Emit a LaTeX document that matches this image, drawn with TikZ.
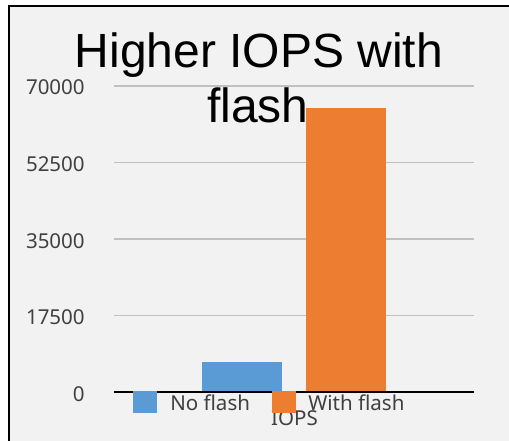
\documentclass[tikz,border=0pt]{standalone}
\usepackage{fontspec}
\setmainfont{Noto Sans}
\newfontfamily\titlefont{Liberation Sans}

\definecolor{chartbg}{HTML}{F2F2F2}
\definecolor{gridgray}{HTML}{C0C0C0}
\definecolor{labelgray}{HTML}{404040}
\definecolor{noflash}{HTML}{5B9BD5}
\definecolor{withflash}{HTML}{ED7D31}

\begin{document}
\begin{tikzpicture}[x=0.75pt,y=-0.75pt,
  ticklabel/.style={anchor=base east,inner sep=0pt,text=labelgray,font=\fontsize{15.4}{18}\selectfont},
  legendlabel/.style={anchor=base west,inner sep=0pt,text=labelgray,font=\fontsize{15.4}{18}\selectfont},
  titleline/.style={anchor=base,inner sep=0pt,font=\titlefont\fontsize{36}{41}\selectfont}]
  \useasboundingbox (0,0) rectangle (509,441);

  % Chart area and frame
  \fill[white] (0,0) rectangle (509,441);
  \fill[chartbg] (8.5,6) rectangle (509,441);
  \draw[line width=1.5pt] (8.5,441) -- (8.5,6) -- (509,6);

  % Gridlines and tick labels
  \foreach \v [count=\i from 0] in {0,17500,35000,52500,70000} {
    \draw[gridgray,line width=1.2pt] (114,392-\i*76.5) -- (474,392-\i*76.5);
    \node[ticklabel] (tick\i) at (85,401-\i*76.5) {\v};
  }

  % Title
  \node[titleline] (title1) at (259,68) {Higher IOPS with};
  \node[titleline] (title2) at (258,123) {flash};

  % Bars
  \fill[noflash] (202,362) rectangle (282,392);
  \fill[withflash] (306,108) rectangle (386,392);

  % Axis
  \draw[line width=1.5pt] (114,392) -- (474,392);
  \node[anchor=base,inner sep=0pt,text=labelgray,font=\fontsize{15.4}{18}\selectfont] (axislabel) at (294.5,425) {IOPS};

  % Legend
  \fill[noflash] (133,391) rectangle (157,413);
  \node[legendlabel] (leg1) at (170,410) {No flash};
  \fill[withflash] (272,391) rectangle (296,413);
  \node[legendlabel] (leg2) at (308,410) {With flash};

\end{tikzpicture}
\end{document}
